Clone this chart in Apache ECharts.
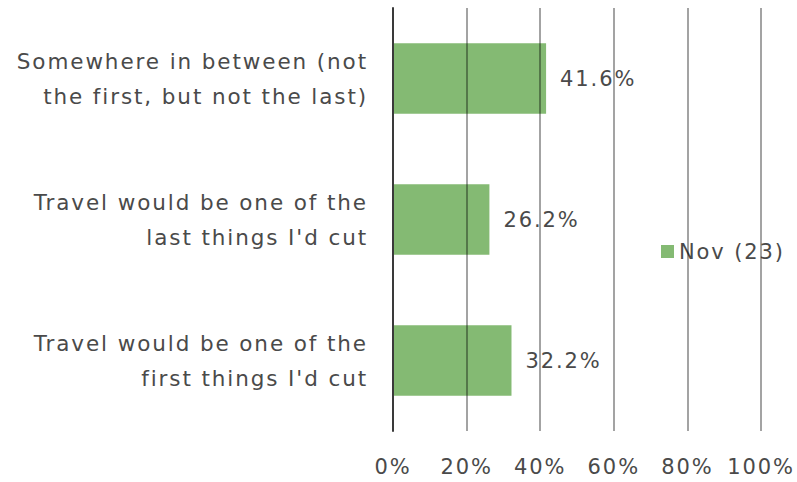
<!DOCTYPE html>
<html>
<head>
<meta charset="utf-8">
<script src="https://cdn.jsdelivr.net/npm/echarts@6/dist/echarts.min.js"></script>
<style>
  html, body { margin: 0; padding: 0; background: #fff; }
  /* wide, airy lettering for every label in the chart */
  #chart { width: 797px; height: 482px; letter-spacing: 1.9px; }
</style>
</head>
<body>
<div id="chart"></div>
<script>
// Survey answers, listed top to bottom
const categories = [
  'Somewhere in between (not\nthe first, but not the last)',
  'Travel would be one of the\nlast things I\'d cut',
  'Travel would be one of the\nfirst things I\'d cut'
];
const seriesName = 'Nov (23)';
const values = [41.6, 26.2, 32.2];
const tickValues = [0, 20, 40, 60, 80, 100];

const FONT = '"DejaVu Sans"';
const WEIGHT = 'normal';
const TEXT = '#4a4a4a';

const chart = echarts.init(document.getElementById('chart'), null, { renderer: 'svg' });
chart.setOption({
  animation: false,
  grid: { left: 393, right: 36, top: 8, bottom: 51, containLabel: false },
  legend: {
    data: [seriesName],
    left: 656, top: 236,
    icon: 'rect', itemWidth: 13, itemHeight: 13, itemGap: 9,
    textStyle: { fontFamily: FONT, fontWeight: WEIGHT, fontSize: 21, color: TEXT }
  },
  xAxis: {
    type: 'value',
    min: tickValues[0], max: tickValues[tickValues.length - 1], interval: 20,
    z: 10,
    axisLine: { show: false },
    axisTick: { show: false },
    axisLabel: {
      formatter: v => tickValues.includes(v) ? v + '%' : '',
      fontFamily: FONT, fontWeight: WEIGHT, fontSize: 21, color: TEXT, margin: 25
    },
    splitLine: { show: true, lineStyle: { color: 'rgba(0,0,0,0.36)', width: 2 } }
  },
  yAxis: {
    type: 'category',
    data: categories,
    inverse: true,
    z: 11,
    axisLine: { show: true, lineStyle: { color: '#3a3a3a', width: 2 } },
    axisTick: { show: false },
    axisLabel: {
      fontFamily: FONT, fontWeight: WEIGHT, fontSize: 21.5, color: TEXT, lineHeight: 35,
      align: 'right', margin: 25
    }
  },
  series: [{
    name: seriesName,
    type: 'bar',
    data: values,
    barWidth: '50%',
    itemStyle: { color: '#84ba73' },
    label: {
      show: true, position: 'right', distance: 14,
      formatter: p => p.value.toFixed(1) + '%',
      fontFamily: FONT, fontWeight: WEIGHT, fontSize: 21, color: TEXT
    }
  }]
});
</script>
</body>
</html>
